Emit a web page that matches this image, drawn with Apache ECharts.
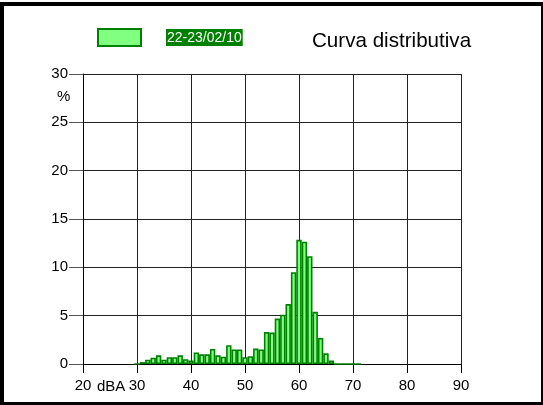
<!DOCTYPE html>
<html>
<head>
<meta charset="utf-8">
<script src="https://cdn.jsdelivr.net/npm/echarts@6/dist/echarts.min.js"></script>
<style>
html,body{margin:0;padding:0;background:#fff;}
#c{width:543px;height:405px;}
</style>
</head>
<body>
<div id="c"></div>
<script>
// Data
const binCenters = [30,31,32,33,34,35,36,37,38,39,40,41,42,43,44,45,46,47,48,49,50,51,52,53,54,55,56,57,58,59,60,61,62,63,64,65,66,67,68,69,70,71];
const percentValues = [0,0.2,0.45,0.65,0.9,0.45,0.7,0.7,0.9,0.5,0.35,1.2,1.0,1.0,1.55,0.9,0.75,1.95,1.5,1.5,0.7,0.8,1.6,1.5,3.3,3.25,4.7,5.1,6.2,9.5,12.85,12.65,11.15,5.4,2.7,1.1,0.35,0,0,0,0,0];
const seriesName = '22-23/02/10';
const chartTitle = 'Curva distributiva';
const xUnit = 'dBA';
const yUnit = '%';
const xTicks = [20,30,40,50,60,70,80,90];
const yTicks = [0,5,10,15,20,25,30];

const FONT = 'Liberation Sans, Arial, sans-serif';
const chart = echarts.init(document.getElementById('c'), null, {renderer:'canvas'});
const data = binCenters.map((x,i)=>[x, percentValues[i]]);

chart.setOption({
  backgroundColor:'#ffffff',
  animation:false,
  title:{
    text: chartTitle,
    left: 312, top: 31, padding:0,
    textStyle:{fontFamily:FONT, fontSize:20.6, fontWeight:'normal', color:'#000'}
  },
  legend:{
    left: 97, top: 28, padding:0,
    itemWidth: 43, itemHeight: 17,
    icon:'rect',
    itemStyle:{color:'#80ff80', borderColor:'#008000', borderWidth:2},
    formatter: function(n){ return '{g|}{t|' + n + '}'; },
    textStyle:{
      fontFamily:FONT, fontSize:14,
      rich:{
        g:{width:20},
        t:{backgroundColor:'#008000', color:'#ffffff', fontFamily:FONT, fontSize:14, padding:[2,1,1,1]}
      }
    },
    data:[seriesName]
  },
  grid:{left:83, right:82, top:74, bottom:41, containLabel:false},
  xAxis:{
    type:'value', min:xTicks[0], max:xTicks[xTicks.length-1], interval:10,
    axisLine:{show:true, onZero:true, lineStyle:{color:'#000', width:1}},
    axisTick:{show:true, length:9, lineStyle:{color:'#000'}},
    axisLabel:{fontFamily:FONT, fontSize:15, color:'#000', margin:14},
    splitLine:{show:true, lineStyle:{color:'#222', width:1}}
  },
  yAxis:{
    type:'value', min:yTicks[0], max:yTicks[yTicks.length-1], interval:5,
    axisLine:{show:true, lineStyle:{color:'#000', width:1}},
    axisTick:{show:true, length:14, lineStyle:{color:'#555'}},
    axisLabel:{fontFamily:FONT, fontSize:15, color:'#000', margin:15},
    splitLine:{show:true, lineStyle:{color:'#222', width:1}}
  },
  series:[{
    name: seriesName,
    type:'bar',
    data: data,
    barWidth: 5.4,
    itemStyle:{color:'#80ff80', borderColor:'#008000', borderWidth:1.6}
  }],
  graphic:[
    {type:'text', left:57, top:89, style:{text:yUnit, font:'15px '+FONT, fill:'#000'}},
    {type:'text', left:97, top:379, style:{text:xUnit, font:'15px '+FONT, fill:'#000'}},
    {type:'rect', shape:{x:0,y:2,width:4,height:403}, style:{fill:'#000'}},
    {type:'rect', shape:{x:0,y:2,width:543,height:4}, style:{fill:'#000'}},
    {type:'rect', shape:{x:541,y:2,width:2,height:403}, style:{fill:'#000'}},
    {type:'rect', shape:{x:0,y:402,width:543,height:3}, style:{fill:'#000'}}
  ]
});
</script>
</body>
</html>
